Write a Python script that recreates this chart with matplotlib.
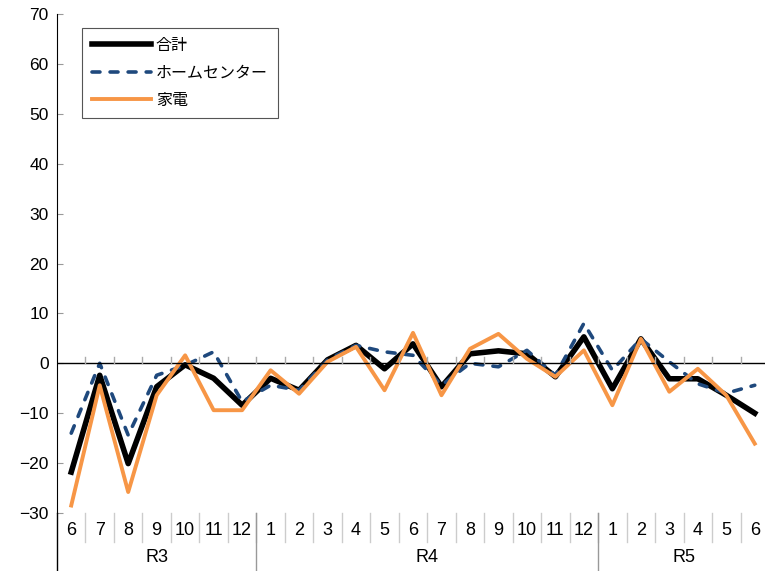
import matplotlib
matplotlib.use("Agg")
import matplotlib.pyplot as plt
import numpy as np

plt.rcParams['font.family'] = ['Liberation Sans', 'Noto Sans CJK JP', 'DejaVu Sans']

months = ['6', '7', '8', '9', '10', '11', '12',
          '1', '2', '3', '4', '5', '6', '7', '8', '9', '10', '11', '12',
          '1', '2', '3', '4', '5', '6']
groups = ['R3', 'R4', 'R5']
group_sizes = [7, 12, 6]

total = [-21.8, -2.4, -20.1, -4.7, -0.3, -3.0, -8.4,
         -3.0, -5.4, 0.7, 3.6, -1.1, 3.9, -4.7, 1.9, 2.5, 1.9, -2.7, 5.3,
         -5.1, 4.9, -3.1, -3.1, -6.4, -10.0]
home = [-14.0, 0.0, -14.4, -2.4, -0.4, 2.3, -7.7,
        -4.4, -5.4, 0.7, 3.6, 2.3, 1.6, -4.4, 0.0, -0.7, 2.6, -2.4, 8.0,
        -1.4, 4.9, 0.3, -4.1, -6.0, -4.4]
appliance = [-28.5, -4.4, -25.8, -6.4, 1.6, -9.4, -9.4,
             -1.4, -6.1, 0.3, 3.3, -5.4, 6.1, -6.4, 2.9, 5.9, 0.9, -2.7, 2.6,
             -8.4, 4.9, -5.7, -1.1, -6.4, -16.1]

fig = plt.figure(figsize=(7.65, 5.71), dpi=100)
ax = fig.add_axes([57 / 765, 1 - 513 / 571, 712 / 765, 499 / 571])

x = np.arange(len(months))
ax.plot(x, total, color='black', lw=4.0, label='合計')
ax.plot(x, home, color='#1f497d', lw=2.6, ls=(0, (2.2, 2.8)), dash_capstyle='round',
        label='ホームセンター')
ax.plot(x, appliance, color='#f79646', lw=2.8, label='家電')

ax.set_xlim(-0.5, len(months) - 0.5)
ax.set_ylim(-30, 70)
ax.set_yticks(range(-30, 71, 10))
ax.tick_params(axis='y', direction='in', length=4, color='#999999', labelsize=12.5, pad=6)
ax.set_xticks([])
ax.axhline(0, color='black', lw=1)
for b in np.arange(0.5, len(months) - 0.5):
    ax.plot([b, b], [0, 1.2], color='#aaaaaa', lw=1)

for s in ['top', 'right', 'bottom']:
    ax.spines[s].set_visible(False)
ax.spines['left'].set_color('black')

# category axis below the plot
trans = ax.get_xaxis_transform()
for i, m in enumerate(months):
    ax.text(i, -0.035, m, transform=trans, ha='center', va='center', fontsize=13)
for b in np.arange(0.5, len(months) - 0.5):
    ax.plot([b, b], [0, -0.058], transform=trans, color='#cccccc', lw=1, clip_on=False)
start = 0
bounds = [-0.5]
for g, n in zip(groups, group_sizes):
    ax.text(start + (n - 1) / 2, -0.09, g, transform=trans, ha='center', va='center', fontsize=13)
    start += n
    bounds.append(start - 0.5)
for b in bounds[:-1]:
    ax.plot([b, b], [0, -0.12], transform=trans, color='#999999' if b > 0 else 'black',
            lw=1, clip_on=False)

leg = ax.legend(loc='upper left', bbox_to_anchor=(0.035, 0.972), fontsize=11.5,
                handlelength=3.7, handletextpad=0.3, labelspacing=0.78,
                fancybox=False, framealpha=1, borderpad=0.62, borderaxespad=0)
leg.get_frame().set_edgecolor('#555555')
leg.get_frame().set_linewidth(0.8)

fig.savefig('out.png', dpi=100)
